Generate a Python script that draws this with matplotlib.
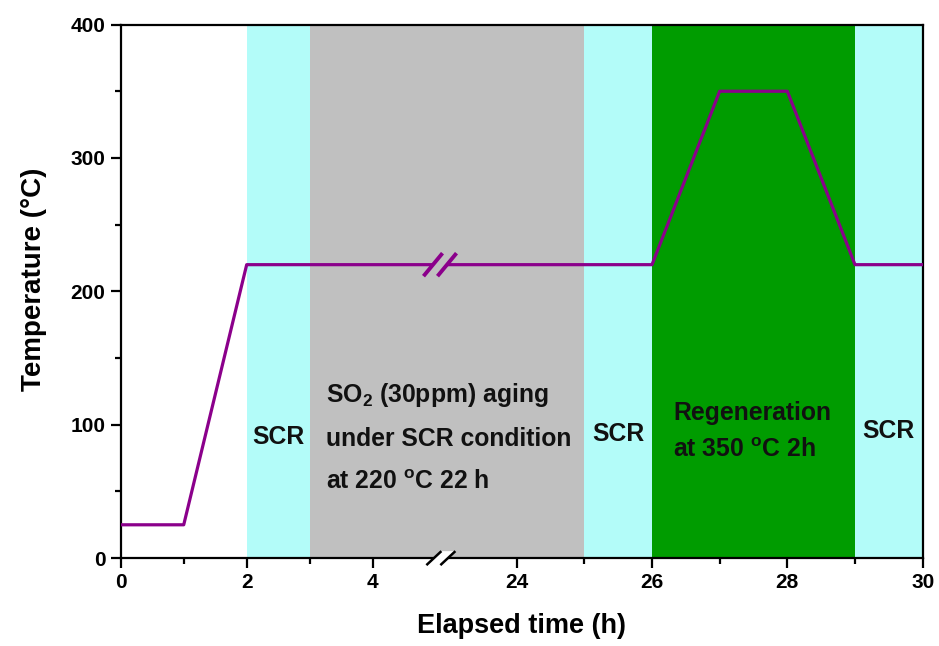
import numpy as np
import matplotlib
matplotlib.use('Agg')
import matplotlib.pyplot as plt
import matplotlib.transforms as mtransforms
from matplotlib.patches import Polygon
from matplotlib.lines import Line2D

plt.rcParams['font.family'] = ['Liberation Sans', 'DejaVu Sans']
plt.rcParams['font.weight'] = 'bold'
plt.rcParams['mathtext.fontset'] = 'custom'
plt.rcParams['mathtext.rm'] = 'Liberation Sans:bold'
plt.rcParams['mathtext.bf'] = 'Liberation Sans:bold'
plt.rcParams['mathtext.it'] = 'Liberation Sans:bold'

# temperature program
time_h = [0, 1, 2, 26, 27, 28, 29, 30]
temp_c = [25, 25, 220, 220, 350, 350, 220, 220]

# shaded stages
band_start = [2, 3, 25, 26, 29]
band_end = [3, 25, 26, 29, 30]
band_color = ['#b3fcf9', '#c0c0c0', '#b3fcf9', '#009c00', '#b3fcf9']

xticks_major = [0, 2, 4, 24, 26, 28, 30]
xticks_minor = [1, 3, 25, 27, 29]
yticks_major = [0, 100, 200, 300, 400]
yticks_minor = [50, 150, 250, 350]

# broken axis: 0..5.08 h, then 22.88..30 h (right part slightly stretched)
t_break = [0, 5.084, 22.88, 30]
u_break = [0, 5.084, 5.0841, 5.0841 + (30 - 22.88) * 1.0746]


def fwd(t):
    return np.interp(t, t_break, u_break)


def inv(u):
    return np.interp(u, u_break, t_break)


fig = plt.figure(figsize=(9.39, 6.46), dpi=100)
ax = fig.add_axes([0.1286, 0.136, 0.8540, 0.826])
ax.set_xscale('function', functions=(fwd, inv))
ax.set_xlim(0, 30)
ax.set_ylim(0, 400)

for s, e, c in zip(band_start, band_end, band_color):
    ax.axvspan(s, e, color=c, lw=0, zorder=0)

ax.plot(time_h, temp_c, color='#8b008b', lw=2.3, zorder=3)

ax.set_xticks(xticks_major)
ax.set_xticks(xticks_minor, minor=True)
ax.set_yticks(yticks_major)
ax.set_yticks(yticks_minor, minor=True)
ax.tick_params(which='major', direction='out', length=7, width=1.6, labelsize=15, pad=4)
ax.tick_params(which='minor', direction='out', length=4, width=1.6)
for sp in ax.spines.values():
    sp.set_linewidth(1.6)

ax.set_xlabel('Elapsed time (h)', fontsize=19.5, fontweight='bold', labelpad=15)
ax.set_ylabel('Temperature (°C)', fontsize=20, fontweight='bold')
ax.yaxis.set_label_coords(-0.092, 0.523)

txt = dict(fontsize=17.8, fontweight='bold', color='#111111')
ax.text(2.5, 91, 'SCR', ha='center', va='center', **txt)
ax.text(3.26, 122, r'SO$_\mathbf{2}$ (30ppm) aging', ha='left', va='center', **txt)
ax.text(3.26, 89, 'under SCR condition', ha='left', va='center', **txt)
ax.text(3.26, 57, r'at 220 $^\mathbf{o}$C 22 h', ha='left', va='center', **txt)
ax.text(25.5, 93, 'SCR', ha='center', va='center', **txt)
ax.text(26.31, 109, 'Regeneration', ha='left', va='center', **txt)
ax.text(26.31, 81, r'at 350 $^\mathbf{o}$C 2h', ha='left', va='center', **txt)
ax.text(29.5, 95, 'SCR', ha='center', va='center', **txt)

# break marks (drawn in pixels around a data point)
ident = mtransforms.IdentityTransform()


def break_mark(xc, yc, fill, edge, dx, dy, gap, lw):
    cx, cy = ax.transData.transform((xc, yc))
    c1 = (cx - gap / 2, cy)
    c2 = (cx + gap / 2, cy)
    verts = [(c1[0] - dx, c1[1] - dy), (c1[0] + dx, c1[1] + dy),
             (c2[0] + dx, c2[1] + dy), (c2[0] - dx, c2[1] - dy)]
    ax.add_patch(Polygon(verts, closed=True, facecolor=fill, edgecolor='none',
                         transform=ident, zorder=4, clip_on=False))
    for c in (c1, c2):
        ax.add_line(Line2D([c[0] - dx, c[0] + dx], [c[1] - dy, c[1] + dy],
                           color=edge, lw=lw, transform=ident, zorder=5,
                           clip_on=False, solid_capstyle='butt'))


break_mark(5.07, 220, '#c0c0c0', '#8b008b', 9.5, 11.5, 14, 2.8)
break_mark(5.134, 0, 'white', 'black', 7.5, 7, 14, 1.8)

fig.savefig('out.png', dpi=100)
